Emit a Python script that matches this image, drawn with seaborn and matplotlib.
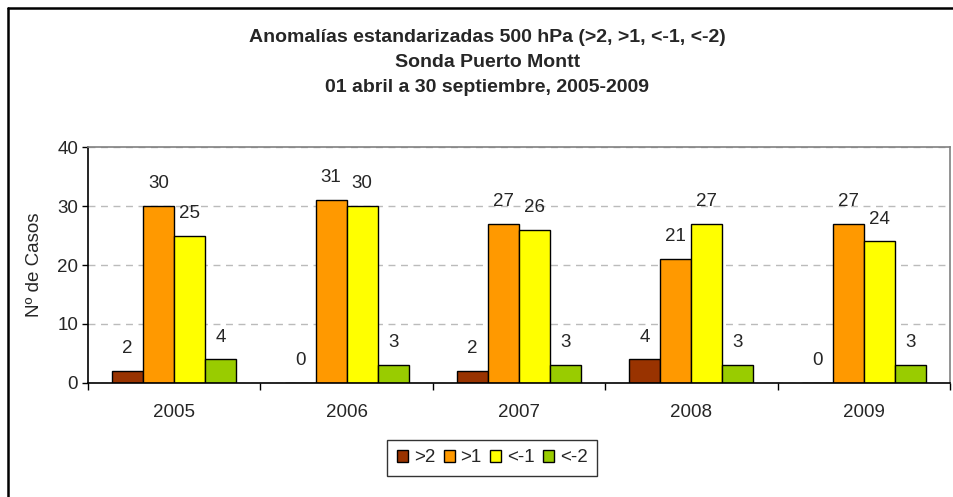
import matplotlib
matplotlib.use("Agg")
import matplotlib.pyplot as plt
from matplotlib.lines import Line2D
import seaborn as sns
import pandas as pd

# data
years = ["2005", "2006", "2007", "2008", "2009"]
series = [">2", ">1", "<-1", "<-2"]
gt2 = [2, 0, 2, 4, 0]
gt1 = [30, 31, 27, 21, 27]
lt1 = [25, 30, 26, 27, 24]
lt2 = [4, 3, 3, 3, 3]
colors = ["#993300", "#FF9900", "#FFFF00", "#99CC00"]

df = pd.DataFrame({
    "Year": years * 4,
    "Serie": [s for s in series for _ in years],
    "Casos": gt2 + gt1 + lt1 + lt2,
})

sns.set_style("white")
plt.rcParams["font.family"] = ["Liberation Sans", "DejaVu Sans"]
fs = 13.5

fig = plt.figure(figsize=(9.54, 4.97), dpi=100)
ax = fig.add_axes([0.0922, 0.2294, 0.9036, 0.4748])

sns.barplot(data=df, x="Year", y="Casos", hue="Serie", hue_order=series,
            order=years, palette=colors, width=0.72, gap=0,
            edgecolor="black", linewidth=1, saturation=1, ax=ax)

for cont in ax.containers:
    ax.bar_label(cont, padding=10, fontsize=fs)

ax.set_ylim(0, 40)
ax.set_xlim(-0.5, 4.5)
ax.set_yticks([0, 10, 20, 30, 40])
ax.tick_params(axis="y", labelsize=fs, length=4, width=1, color="black",
               direction="out", left=True, pad=3)
ax.tick_params(axis="x", which="major", labelsize=fs, length=0, pad=15)
ax.set_xticks([i + 0.5 for i in range(-1, 5)], minor=True)
ax.tick_params(axis="x", which="minor", length=5, width=1, color="black",
               direction="out", bottom=True)
ax.grid(axis="y", color="#BBBBBB", linestyle=(0, (5, 4)), linewidth=1)
ax.set_axisbelow(True)

ax.set_xlabel("")
ax.set_ylabel("Nº de Casos", fontsize=fs, labelpad=10)

for side in ["left", "bottom"]:
    ax.spines[side].set_color("black")
    ax.spines[side].set_linewidth(1.2)
for side in ["top", "right"]:
    ax.spines[side].set_visible(True)
    ax.spines[side].set_color("#808080")
    ax.spines[side].set_linewidth(1.2)

fig.text(0.511, 1 - 62.5 / 497,
         "Anomalías estandarizadas 500 hPa (>2, >1, <-1, <-2)\n"
         "Sonda Puerto Montt\n01 abril a 30 septiembre, 2005-2009",
         ha="center", va="center", fontsize=14, fontweight="bold",
         linespacing=1.63)

leg = ax.legend(loc="center", bbox_to_anchor=(0.5160, 1 - 458 / 497),
                bbox_transform=fig.transFigure, ncol=4, fontsize=fs,
                frameon=True, fancybox=False, edgecolor="black",
                handlelength=0.6, handleheight=0.6, handletextpad=0.3,
                columnspacing=0.45, borderpad=0.5, borderaxespad=0,
                title=None)
leg.get_frame().set_linewidth(1)

# outer chart frame (top and left edges visible)
fig.add_artist(Line2D([8 / 954, 1], [1 - 8 / 497, 1 - 8 / 497],
                      transform=fig.transFigure, color="black", lw=1.8))
fig.add_artist(Line2D([8 / 954, 8 / 954], [0, 1 - 8 / 497],
                      transform=fig.transFigure, color="black", lw=1.8))

fig.savefig("out.png", dpi=100, facecolor="white")
